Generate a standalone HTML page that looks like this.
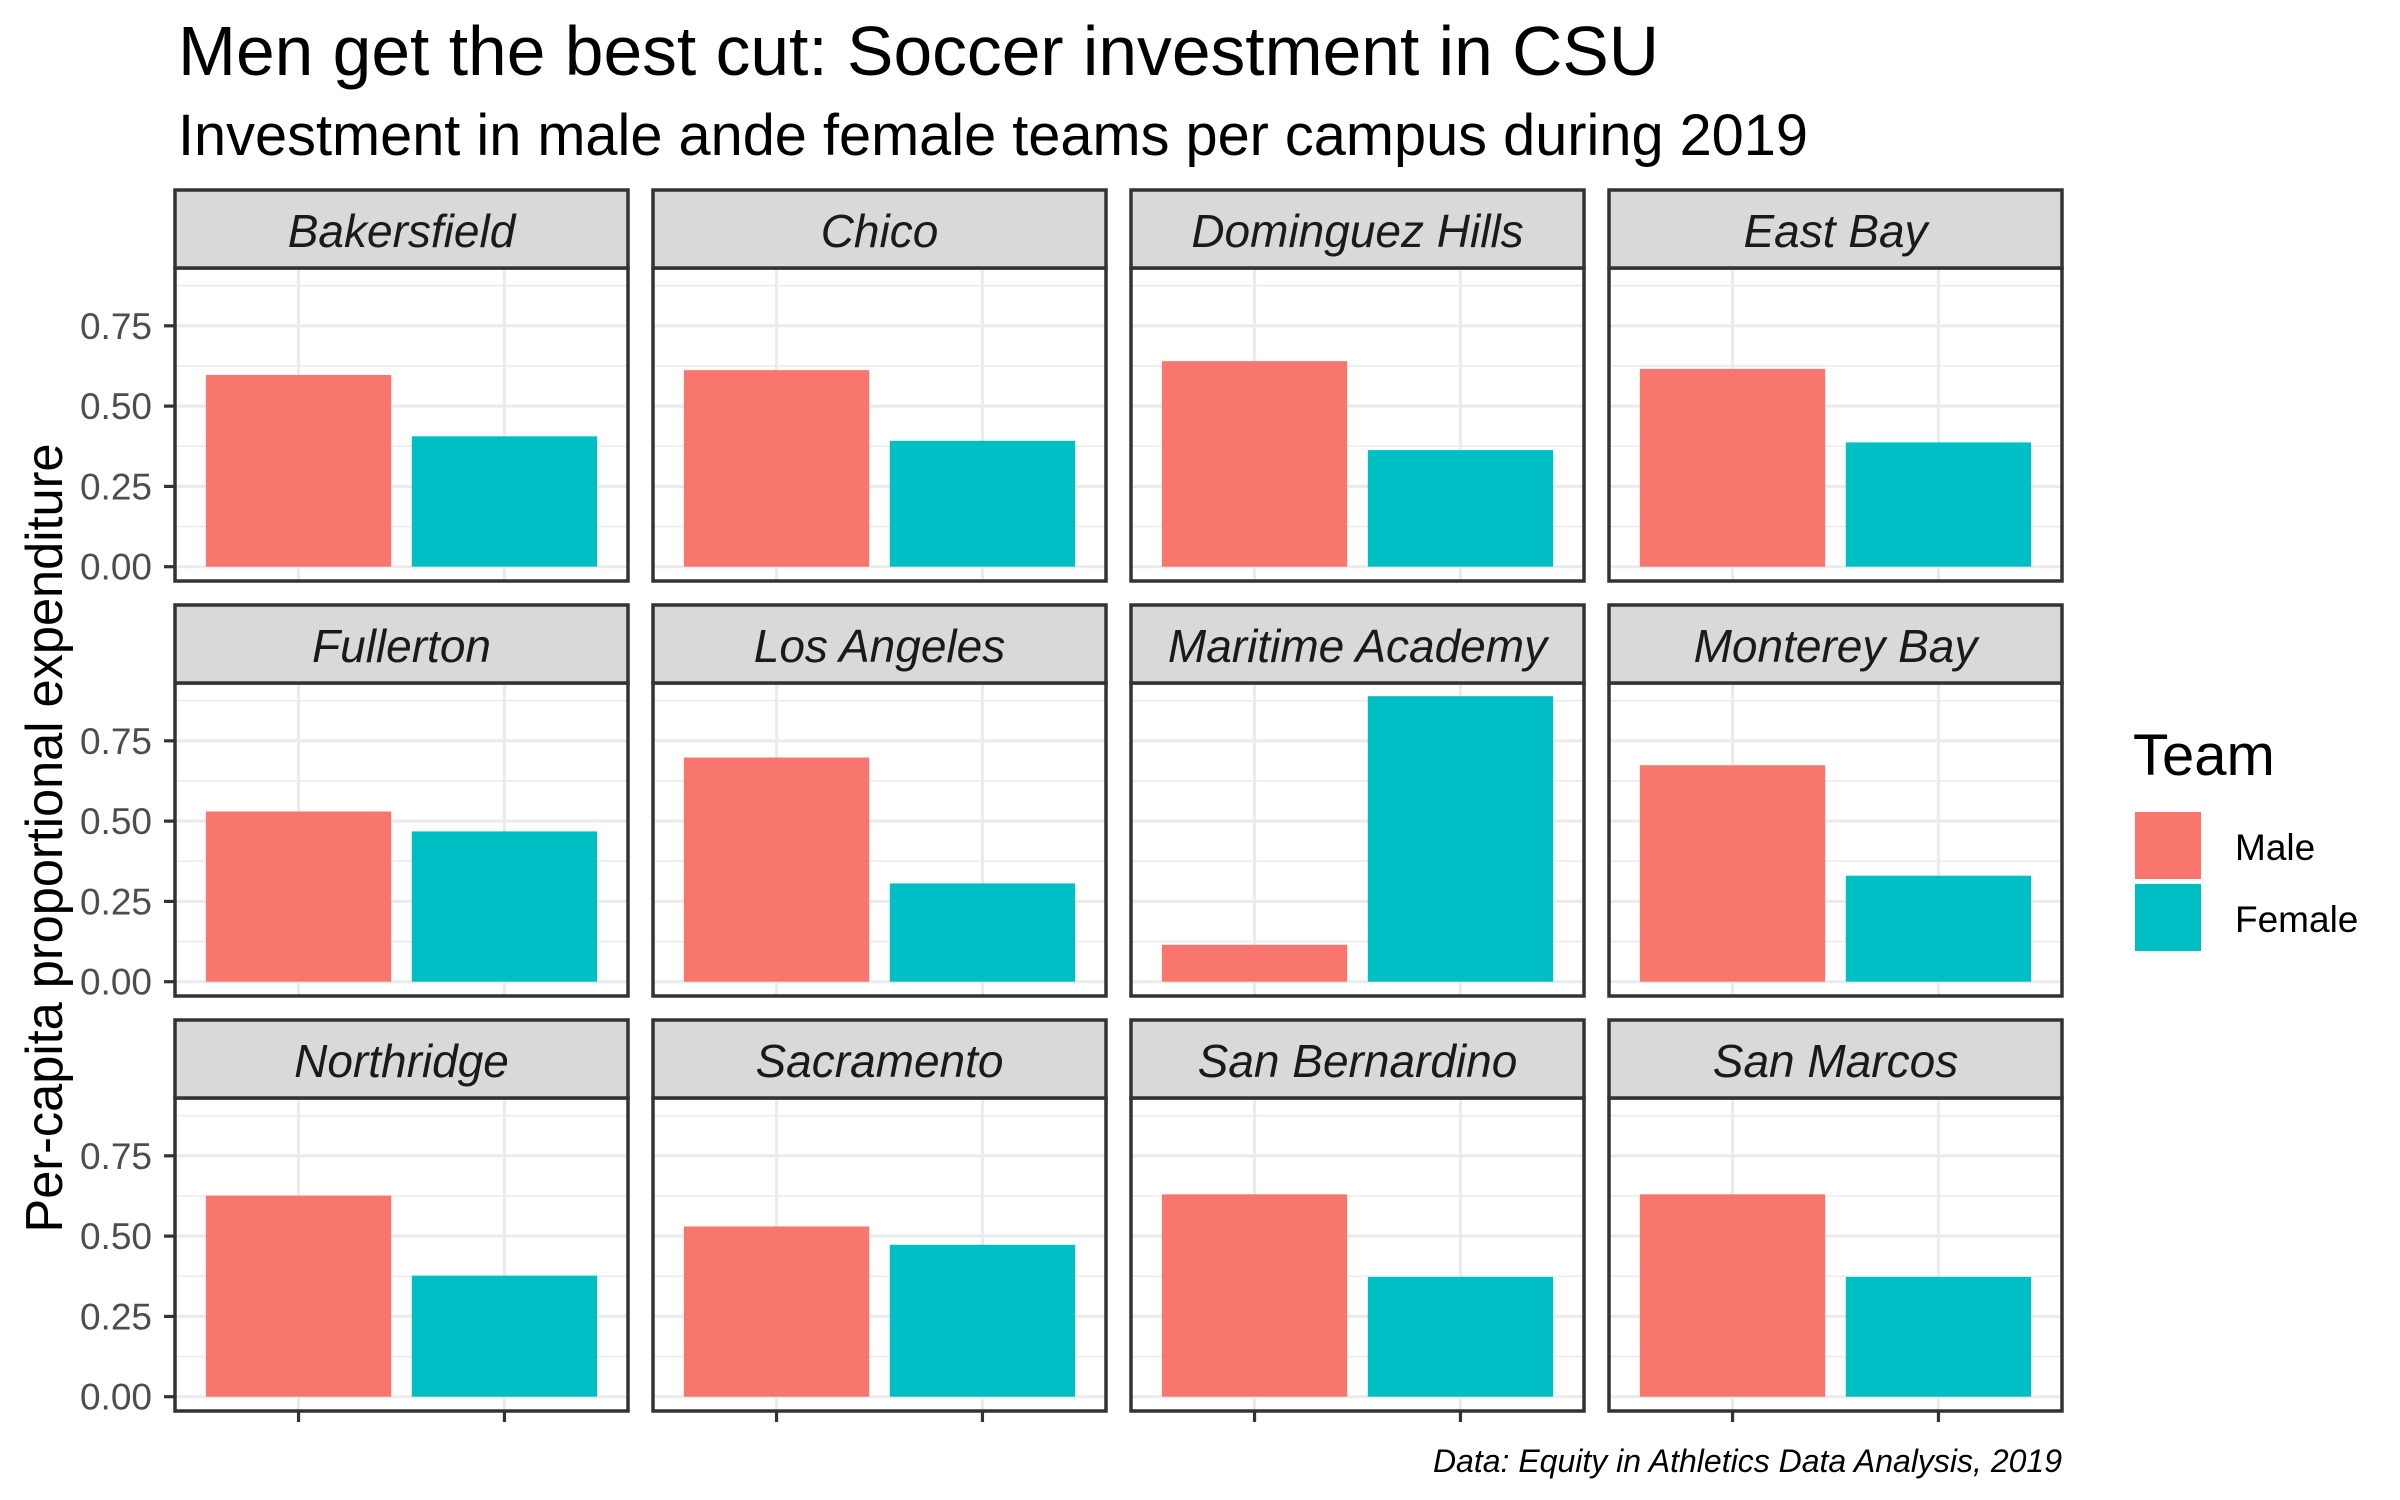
<!DOCTYPE html>
<html><head><meta charset="utf-8"><style>
body{margin:0;background:#fff;}
svg{display:block;font-family:"Liberation Sans",Arial,sans-serif;}
</style></head><body>
<svg id="chart" width="2400" height="1500" viewBox="0 0 2400 1500" xmlns="http://www.w3.org/2000/svg">
<text x="178" y="75" font-size="70" textLength="1481" lengthAdjust="spacingAndGlyphs">Men get the best cut: Soccer investment in CSU</text>
<text x="178" y="155" font-size="58" textLength="1630" lengthAdjust="spacingAndGlyphs">Investment in male ande female teams per campus during 2019</text>
<text transform="translate(62,838) rotate(-90)" text-anchor="middle" font-size="52" textLength="789" lengthAdjust="spacingAndGlyphs">Per-capita proportional expenditure</text>
<g id="panels"></g>
<text x="2133" y="775" font-size="58">Team</text>
<rect x="2135" y="812" width="66" height="67" fill="#F8766D"/>
<text x="2235" y="860" font-size="37">Male</text>
<rect x="2135" y="884" width="66" height="67" fill="#00BFC4"/>
<text x="2235" y="932" font-size="37">Female</text>
<text x="2062" y="1472" font-size="32" font-style="italic" text-anchor="end">Data: Equity in Athletics Data Analysis, 2019</text>
</svg>
<script>
const campuses = ["Bakersfield","Chico","Dominguez Hills","East Bay","Fullerton","Los Angeles","Maritime Academy","Monterey Bay","Northridge","Sacramento","San Bernardino","San Marcos"];
const maleValues = [0.597,0.612,0.640,0.616,0.530,0.698,0.115,0.674,0.626,0.530,0.630,0.630];
const femaleValues = [0.406,0.392,0.363,0.387,0.468,0.306,0.889,0.330,0.377,0.473,0.373,0.373];
const yTicks = [0,0.25,0.5,0.75];
const yTickLabels = ["0.00","0.25","0.50","0.75"];
const yMinor = [0.125,0.375,0.625,0.875];

const NS="http://www.w3.org/2000/svg";
const g=document.getElementById('panels');
function mk(tag,attrs,parent){const e=document.createElementNS(NS,tag);for(const k in attrs)e.setAttribute(k,attrs[k]);(parent||g).appendChild(e);return e;}
const PW=453, PX0=175, PPITCH=478, STRIP_TOP0=190, STRIP_H=78, ROWPITCH=415, BODY_H=313;
const yLo=-0.0445, yHi=0.930;
const xLo=0.4, xHi=2.6;
for(let i=0;i<campuses.length;i++){
  const col=i%4,row=Math.floor(i/4);
  const px=PX0+col*PPITCH, st=STRIP_TOP0+row*ROWPITCH, by=st+STRIP_H, bb=by+BODY_H;
  const yS=v=>bb-(v-yLo)/(yHi-yLo)*BODY_H;
  const xS=c=>px+(c-xLo)/(xHi-xLo)*PW;
  const pg=mk('g',{});
  
  
  mk('rect',{x:px,y:by,width:PW,height:BODY_H,fill:'#fff'},pg);
  yMinor.forEach(v=>{const l=mk('line',{x1:px,x2:px+PW,y1:yS(v),y2:yS(v),stroke:'#EBEBEB','stroke-width':1.6},pg);
    
    });
  yTicks.forEach(v=>{const l=mk('line',{x1:px,x2:px+PW,y1:yS(v),y2:yS(v),stroke:'#EBEBEB','stroke-width':3.2},pg);
    
    });
  [1,2].forEach(c=>{const l=mk('line',{x1:xS(c),x2:xS(c),y1:by,y2:bb,stroke:'#EBEBEB','stroke-width':3.2},pg);
    
    });
  const vals=[maleValues[i],femaleValues[i]], cols=['#F8766D','#00BFC4'], nm=['male','female'];
  vals.forEach((v,k)=>{const c=k+1;
    const r=mk('rect',{x:xS(c-0.45),width:xS(c+0.45)-xS(c-0.45),y:yS(v),height:yS(0)-yS(v),fill:cols[k]},pg);
    
    });
  mk('rect',{x:px,y:by,width:PW,height:BODY_H,fill:'none',stroke:'#333','stroke-width':3.5},pg);
  const s=mk('rect',{x:px,y:st,width:PW,height:STRIP_H,fill:'#D9D9D9',stroke:'#333','stroke-width':3.5},pg);
  
  
  const t=mk('text',{x:px+PW/2,y:st+57,'text-anchor':'middle','font-size':46,'font-style':'italic',fill:'#1A1A1A'},pg);
  t.textContent=campuses[i];
  
  
  if(col===0){
    yTicks.forEach((v,k)=>{
      mk('line',{x1:px-11,x2:px,y1:yS(v),y2:yS(v),stroke:'#333','stroke-width':3.2},pg);
      const tl=mk('text',{x:px-23,y:yS(v)+13,'text-anchor':'end','font-size':37,fill:'#4D4D4D'},pg);
      tl.textContent=yTickLabels[k];
      
      
    });
  }
  if(row===2){
    [1,2].forEach(c=>{const tk=mk('line',{x1:xS(c),x2:xS(c),y1:bb,y2:bb+11,stroke:'#333','stroke-width':3.2},pg);
      
      });
  }
}
</script>
</body></html>
